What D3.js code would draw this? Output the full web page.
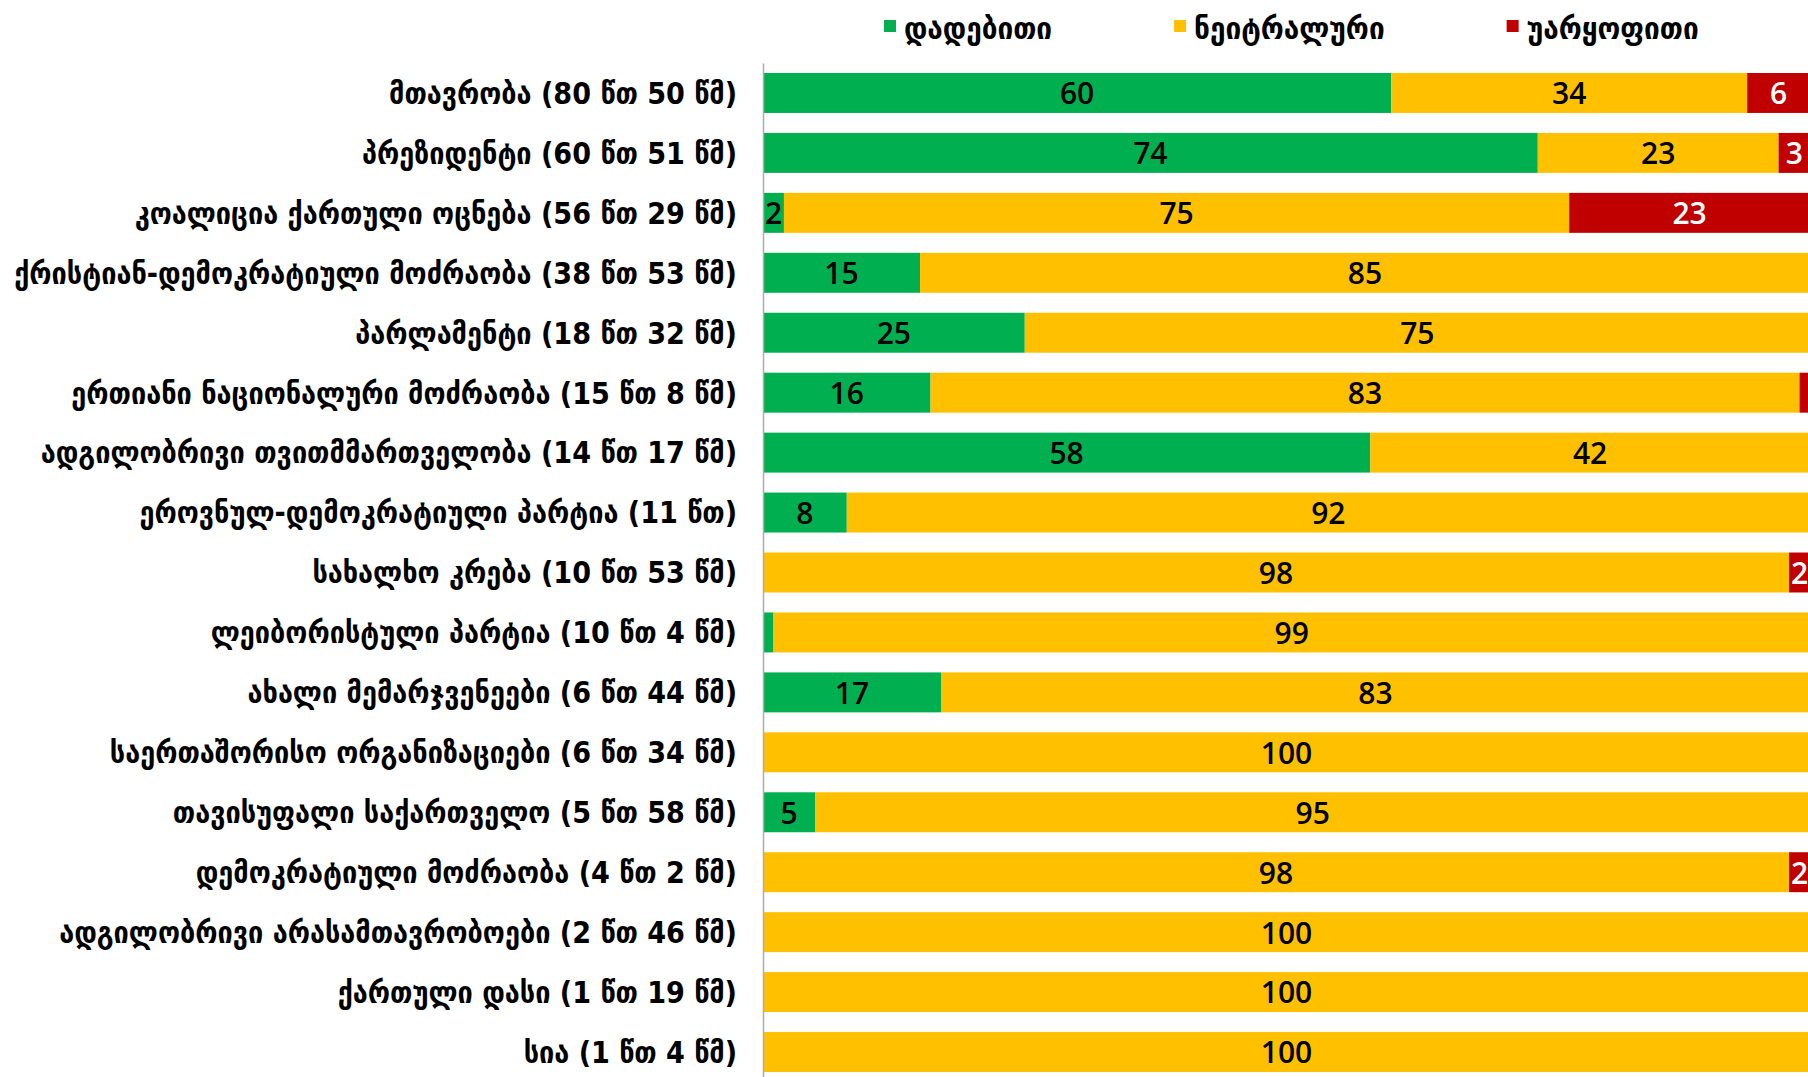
<!DOCTYPE html>
<html>
<head>
<meta charset="utf-8">
<script src="https://cdn.jsdelivr.net/npm/d3@7"></script>
<style>
  body { margin: 0; background: #fff; }
  .cat text, .legend text { font-family: "DejaVu Sans Condensed", "DejaVu Sans", sans-serif; font-stretch: condensed; font-weight: bold; fill: #000; }
  .num { font-family: "Open Sans", "Liberation Sans", sans-serif; font-weight: 600; }
</style>
</head>
<body>
<div id="main"></div>
<script>
var categories = [
  "მთავრობა (80 წთ 50 წმ)",
  "პრეზიდენტი (60 წთ 51 წმ)",
  "კოალიცია ქართული ოცნება (56 წთ 29 წმ)",
  "ქრისტიან-დემოკრატიული მოძრაობა (38 წთ 53 წმ)",
  "პარლამენტი (18 წთ 32 წმ)",
  "ერთიანი ნაციონალური მოძრაობა (15 წთ 8 წმ)",
  "ადგილობრივი თვითმმართველობა (14 წთ 17 წმ)",
  "ეროვნულ-დემოკრატიული პარტია (11 წთ)",
  "სახალხო კრება (10 წთ 53 წმ)",
  "ლეიბორისტული პარტია (10 წთ 4 წმ)",
  "ახალი მემარჯვენეები (6 წთ 44 წმ)",
  "საერთაშორისო ორგანიზაციები (6 წთ 34 წმ)",
  "თავისუფალი საქართველო (5 წთ 58 წმ)",
  "დემოკრატიული მოძრაობა (4 წთ 2 წმ)",
  "ადგილობრივი არასამთავრობოები (2 წთ 46 წმ)",
  "ქართული დასი (1 წთ 19 წმ)",
  "სია (1 წთ 4 წმ)"
];
var positive = [60, 74, 2, 15, 25, 16, 58, 8, 0, 1, 17, 0, 5, 0, 0, 0, 0];
var neutral  = [34, 23, 75, 85, 75, 83, 42, 92, 98, 99, 83, 100, 95, 98, 100, 100, 100];
var negative = [6, 3, 23, 0, 0, 1, 0, 0, 2, 0, 0, 0, 0, 2, 0, 0, 0];
var seriesNames = ["დადებითი", "ნეიტრალური", "უარყოფითი"];

var width = 1808, height = 1077;
var colors = ["#00B050", "#FFC000", "#C00000"];
var textColors = ["#000", "#000", "#fff"];

var svg = d3.select("#main")
  .append("svg")
    .attr("width", width)
    .attr("height", height);

// build table for stack
var keys = ["pos", "neu", "neg"];
var table = categories.map(function(c, i) {
  return {cat: c, pos: positive[i], neu: neutral[i], neg: negative[i]};
});
var stacked = d3.stack().keys(keys)(table);

var x = d3.scaleLinear().domain([0, 100]).range([763, 1810]);
var y = d3.scaleBand()
  .domain(categories)
  .range([63, 1082])
  .paddingInner(1 / 3)
  .paddingOuter(1 / 6);

// bars
var groups = svg.selectAll(".series")
  .data(stacked)
  .enter()
  .append("g")
    .attr("class", "series")
    .attr("fill", function(d, i) { return colors[i]; });

groups.selectAll("rect")
  .data(function(d) { return d; })
  .enter()
  .append("rect")
    .attr("x", function(d) { return x(d[0]); })
    .attr("y", function(d) { return y(d.data.cat); })
    .attr("width", function(d) { return x(d[1]) - x(d[0]); })
    .attr("height", y.bandwidth());

// value labels (hide 0 and 1)
groups.each(function(s, si) {
  d3.select(this).selectAll(".num")
    .data(s.filter(function(d) { return d[1] - d[0] >= 2; }))
    .enter()
    .append("text")
      .attr("class", "num")
      .attr("x", function(d) { return (x(d[0]) + x(d[1])) / 2; })
      .attr("y", function(d) { return y(d.data.cat) + y.bandwidth() / 2; })
      .attr("dy", "0.38em")
      .attr("text-anchor", "middle")
      .style("font-size", "30px")
      .style("fill", textColors[si])
      .text(function(d) { return d[1] - d[0]; });
});

// category axis
var axis = svg.append("g")
  .attr("class", "cat")
  .attr("transform", "translate(" + x(0) + ",0)")
  .call(d3.axisLeft(y).tickSize(0).tickPadding(26));
axis.select(".domain").attr("stroke", "#ADADAD").attr("stroke-width", 1.5);
var labels = axis.selectAll("text").attr("font-size", null).style("font-size", "26px").attr("dy", "0.36em");

// fit longest label to reference width
var maxW = d3.max(labels.nodes(), function(n) { return n.getComputedTextLength(); });
var fs = 26 * 723 / maxW;
labels.style("font-size", fs + "px");

// legend
var legend = svg.append("g").attr("class", "legend");
var lx = 884;
seriesNames.forEach(function(name, i) {
  var item = legend.append("g").attr("transform", "translate(" + lx + ",0)");
  item.append("rect")
    .attr("x", 0).attr("y", 20)
    .attr("width", 12).attr("height", 12)
    .attr("fill", colors[i]);
  var t = item.append("text")
    .attr("x", 20).attr("y", 28)
    .attr("dy", "0.36em")
    .style("font-size", (fs + 1) + "px")
    .text(name);
  lx += 20 + t.node().getComputedTextLength() + 122;
});
</script>
</body>
</html>
